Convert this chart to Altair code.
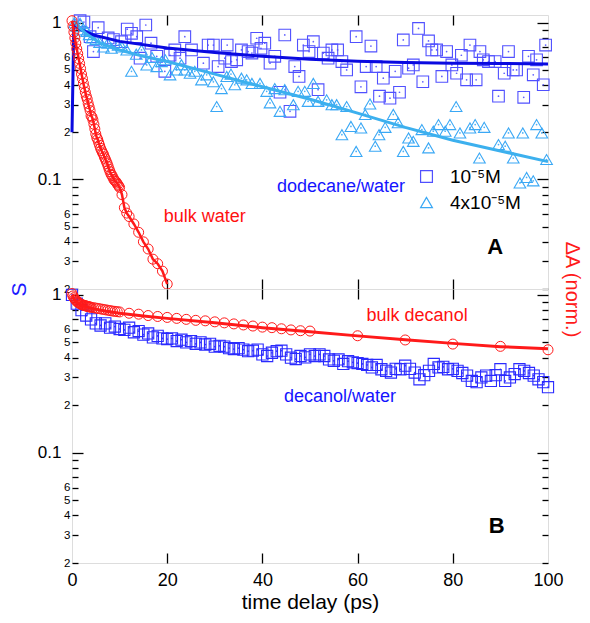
import altair as alt
import pandas as pd

FONT = "Liberation Sans"
W, H = 476, 274

# ---------------- Panel A data ----------------
# dodecane/water, 1e-5 M (squares)
A_SQ_T = [1.7, 2.5, 3.8, 4.5, 5.5, 7.6, 8.7, 10.4, 11.6, 12.5, 13.6, 14.3, 15.5, 16.6, 17.8, 19.5,
          20.6, 21.6, 22.7, 23.7, 25.1, 27.6, 28.6, 29.7, 30.7, 32.1, 32.6, 33.5, 34.6, 35.6, 37.0,
          37.8, 38.8, 39.7, 40.5, 41.6, 42.6, 43.7, 44.7, 45.8, 46.8, 47.7, 48.6, 49.8, 50.7, 51.7,
          52.8, 53.8, 54.6, 55.8, 56.7, 57.7, 59.7, 60.7, 61.8, 62.8, 63.9, 64.6, 65.4, 66.8, 67.9,
          68.8, 69.6, 70.7, 71.7, 72.8, 73.7, 74.9, 75.6, 76.6, 77.7, 78.7, 79.8, 80.8, 81.8, 82.9,
          83.6, 84.9, 85.7, 86.4, 87.5, 88.9, 89.6, 90.8, 91.7, 92.7, 93.4, 94.9, 95.9, 96.9, 97.6,
          99.0, 99.5]
A_SQ_V = [1.03, 1.01, 0.815, 0.655, 0.93, 0.80, 0.78, 0.757, 0.91, 0.856, 0.815, 0.594, 0.967, 0.74, 0.61, 0.49,
          0.62, 0.67, 0.594, 0.815, 0.67, 0.552, 0.72, 0.72, 0.525, 0.594, 0.72, 0.565, 0.58, 0.67, 0.655,
          0.64, 0.796, 0.687, 0.74, 0.552, 0.61, 0.36, 0.835, 0.272, 0.525, 0.454, 0.72, 0.655, 0.757, 0.374,
          0.64, 0.594, 0.67, 0.67, 0.565, 0.50, 0.815, 0.39, 0.525, 0.71, 0.525, 0.34, 0.443, 0.33, 0.49,
          0.36, 0.776, 0.513, 0.538, 0.92, 0.42, 0.765, 0.67, 0.67, 0.454, 0.655, 0.538, 0.476, 0.62, 0.432,
          0.72, 0.432, 0.655, 0.58, 0.565, 0.565, 0.34, 0.476, 0.655, 0.50, 0.50, 0.334, 0.61, 0.465, 0.58,
          0.402, 0.72]
# dodecane/water, 4e-5 M (triangles)
A_TRI_T = [0.5, 1.0, 1.7, 2.2, 3.1, 3.6, 4.2, 5.0, 5.8, 6.6, 7.5, 8.3, 9.7, 10.5, 11.5, 12.5, 13.5,
           14.6, 15.7, 16.8, 17.8, 18.8, 19.6, 20.6, 22.0, 23.0, 23.7, 24.8, 25.8, 27.2, 28.3, 29.7,
           30.4, 31.4, 32.5, 33.4, 34.2, 35.6, 36.7, 37.8, 39.5, 40.9, 41.6, 42.6, 43.7, 44.7, 46.5,
           47.5, 48.9, 49.6, 50.7, 51.7, 53.5, 54.6, 55.6, 56.7, 57.7, 58.6, 59.7, 60.7, 61.6, 62.6,
           63.7, 64.5, 65.8, 67.5, 68.5, 69.6, 70.7, 71.7, 73.5, 74.9, 75.9, 77.0, 78.4, 79.4, 80.7,
           81.5, 83.6, 84.7, 85.6, 86.6, 89.6, 91.0, 91.7, 92.7, 94.1, 94.7, 95.5, 96.9, 97.6, 98.7, 99.7]
A_TRI_V = [1.0, 0.95, 0.99, 0.90, 0.88, 0.84, 0.80, 0.78, 0.75, 0.70, 0.74, 0.687, 0.72, 0.70, 0.67, 0.49, 0.63,
           0.67, 0.538, 0.60, 0.525, 0.565, 0.58, 0.465, 0.50, 0.54, 0.50, 0.476, 0.49, 0.432, 0.465, 0.42,
           0.292, 0.38, 0.454, 0.47, 0.402, 0.443, 0.432, 0.41, 0.41, 0.365, 0.308, 0.38, 0.272, 0.374, 0.30,
           0.365, 0.365, 0.315, 0.41, 0.315, 0.322, 0.30, 0.30, 0.193, 0.292, 0.218, 0.151, 0.213, 0.26, 0.303,
           0.163, 0.193, 0.215, 0.26, 0.23, 0.151, 0.184, 0.175, 0.208, 0.159, 0.203, 0.224, 0.203, 0.224, 0.292,
           0.198, 0.213, 0.224, 0.137, 0.215, 0.167, 0.163, 0.198, 0.137, 0.095, 0.198, 0.103, 0.098, 0.224, 0.198, 0.134]
# fits through the two dodecane/water series
A_FIT1_T = [0, 0.4, 1, 2, 4.5, 10, 20, 30, 40, 50, 60, 70, 80, 90, 100]
A_FIT1_V = [0.2, 1.02, 0.94, 0.9, 0.835, 0.76, 0.69, 0.645, 0.61, 0.585, 0.567, 0.558, 0.552, 0.549, 0.546]
A_FIT4_T = [0.4, 1, 3, 5.9, 10, 15, 20, 30, 40, 50, 60, 70, 80, 90, 100]
A_FIT4_V = [1.02, 0.967, 0.85, 0.74, 0.67, 0.61, 0.565, 0.47, 0.39, 0.325, 0.265, 0.215, 0.178, 0.152, 0.13]
# bulk water (red circles, joined)
A_W_T = [0.0, 0.2, 0.4, 0.6, 0.8, 1.0, 1.2, 1.4, 1.6, 1.8, 2.0, 2.2, 2.4, 2.6, 2.8, 3.0, 3.2, 3.4, 3.6,
         3.8, 4.0, 4.2, 4.4, 4.6, 4.8, 5.0, 5.2, 5.4, 5.6, 5.8, 6.0, 6.2, 6.4, 6.6, 6.8, 7.0, 7.2, 7.4,
         7.6, 7.8, 8.0, 8.2, 8.4, 8.6, 8.8, 9.0, 9.2, 9.4, 9.6, 9.8, 10.0, 10.5, 11.0, 11.5, 12.0, 13.0,
         14.0, 15.0, 16.0, 17.0, 18.0, 19.0, 20.0]
A_W_V = [1.03, 0.95, 0.87, 0.80, 0.74, 0.68, 0.635, 0.59, 0.55, 0.51, 0.47, 0.44, 0.41, 0.385, 0.36, 0.34,
         0.325, 0.305, 0.29, 0.275, 0.255, 0.25, 0.24, 0.225, 0.21, 0.195, 0.185, 0.18, 0.172, 0.165, 0.158,
         0.153, 0.148, 0.145, 0.139, 0.135, 0.13, 0.126, 0.121, 0.116, 0.112, 0.108, 0.106, 0.103, 0.100,
         0.098, 0.097, 0.095, 0.093, 0.091, 0.089, 0.08, 0.066, 0.061, 0.058, 0.052, 0.046, 0.040, 0.036,
         0.031, 0.029, 0.026, 0.0215]

# ---------------- Panel B data ----------------
B_SQ_T = list(range(0, 101))
B_SQ_V = [1.0, 0.88, 0.80, 0.74, 0.70, 0.66, 0.64, 0.66, 0.62, 0.63, 0.608, 0.60, 0.62, 0.58, 0.59, 0.56,
          0.57, 0.538, 0.55, 0.53, 0.525, 0.53, 0.51, 0.52, 0.50, 0.51, 0.49, 0.50, 0.485, 0.49, 0.47,
          0.476, 0.47, 0.46, 0.454, 0.46, 0.45, 0.44, 0.443, 0.45, 0.42, 0.41, 0.43, 0.44, 0.443, 0.42,
          0.40, 0.392, 0.41, 0.402, 0.42, 0.41, 0.42, 0.41, 0.39, 0.382, 0.39, 0.365, 0.38, 0.374, 0.37,
          0.365, 0.36, 0.347, 0.36, 0.338, 0.33, 0.322, 0.34, 0.338, 0.356, 0.34, 0.322, 0.292, 0.31, 0.33,
          0.365, 0.347, 0.35, 0.338, 0.34, 0.33, 0.32, 0.308, 0.285, 0.28, 0.30, 0.308, 0.285, 0.31, 0.338,
          0.285, 0.30, 0.315, 0.338, 0.33, 0.32, 0.308, 0.292, 0.28, 0.26]
B_DEC_T = [0, 0.2, 0.4, 0.6, 0.8, 1.0, 1.2, 1.4, 1.6, 1.8, 2.0, 2.2, 2.4, 2.6, 2.8, 3.0, 3.2, 3.4, 3.6,
           3.8, 4.0, 4.5, 5, 5.5, 6, 6.5, 7, 7.5, 8, 8.5, 9, 9.5, 10, 12, 14, 16, 18, 20, 22, 24, 26, 28,
           30, 32, 34, 36, 38, 40, 42, 44, 46, 48, 50, 60, 70, 80, 90, 100]
B_DEC_V = [1.02, 0.985, 0.96, 0.94, 0.925, 0.91, 0.90, 0.89, 0.885, 0.875, 0.87, 0.865, 0.86, 0.857, 0.853,
           0.85, 0.847, 0.843, 0.84, 0.838, 0.835, 0.83, 0.825, 0.82, 0.815, 0.81, 0.805, 0.80, 0.795, 0.79,
           0.787, 0.783, 0.78, 0.765, 0.755, 0.74, 0.73, 0.72, 0.71, 0.70, 0.69, 0.685, 0.675, 0.665, 0.655,
           0.645, 0.635, 0.625, 0.62, 0.61, 0.60, 0.593, 0.59, 0.551, 0.518, 0.488, 0.472, 0.449]
B_FIT_T = [0, 0.5, 1, 2, 3, 5, 7, 10, 15, 20, 30, 40, 50, 60, 70, 80, 90, 100]
B_FIT_V = [1.0, 0.93, 0.90, 0.86, 0.84, 0.81, 0.79, 0.765, 0.735, 0.71, 0.665, 0.62, 0.585, 0.55, 0.52,
           0.493, 0.47, 0.455]

# ---------------- labels / ticks ----------------
SER = ["10\u207b\u2075M", "4x10\u207b\u2075M"]
Y_TICKS = [0.02, 0.03, 0.04, 0.05, 0.06, 0.07, 0.08, 0.09, 0.1, 0.2, 0.3, 0.4, 0.5, 0.6, 0.7, 0.8, 0.9, 1.0]
Y_MAJOR = [0.1, 1.0]
Y_MINOR_LAB = [0.02, 0.03, 0.04, 0.05, 0.06, 0.2, 0.3, 0.4, 0.5, 0.6]
X_TICKS = [20, 40, 60, 80]
X_LABELS = [0, 20, 40, 60, 80, 100]

A_TXT = [("bulk water", 27.9, 0.0573, "#ff1010"), ("dodecane/water", 56.5, 0.089, "#1414ff")]
B_TXT = [("bulk decanol", 72.5, 0.738, "#ff1010"), ("decanol/water", 56.3, 0.225, "#1414ff")]
A_PANEL = ("A", 88.9, 0.0368)
B_PANEL = ("B", 89.2, 0.0341)

C_SQ_A = "#5050ff"
C_TRI = "#3aa8f5"
C_DARK = "#0a0ae0"
C_LIGHT = "#3cb0ee"
C_RED = "#ff1a1a"
C_SQ_B = "#2a2aff"

xs = alt.Scale(domain=[0, 100], nice=False, zero=False)
ysA = alt.Scale(type="log", domain=[0.02, 1.12], nice=False)
ysB = alt.Scale(type="log", domain=[0.02, 1.09], nice=False)

MAJ = "datum.value > 0.95 || (datum.value > 0.095 && datum.value < 0.105)"


def ax_major(**extra):
    return alt.Axis(orient="left", values=Y_MAJOR, ticks=False, domain=False, grid=False,
                    labelFont=FONT, labelFontSize=17, labelPadding=11, labelColor="black",
                    labelOverlap=False, labelExpr="datum.value > 0.5 ? '1' : '0.1'", **extra)


def ax_minor():
    return alt.Axis(orient="left", values=Y_MINOR_LAB, ticks=False, domain=False, grid=False,
                    labelFont=FONT, labelFontSize=11.5, labelPadding=2, labelColor="black",
                    labelOverlap=False,
                    labelExpr="format(datum.value * (datum.value < 0.095 ? 100 : 10), '.0f')",
                    title=None)


def ax_y_ticks(orient, **extra):
    return alt.Axis(orient=orient, offset=-W, values=Y_TICKS, labels=False, domain=False, grid=False,
                    tickColor="black", tickWidth=1.3,
                    tickSize={"condition": {"test": MAJ, "value": 11}, "value": 6}, **extra)


def ax_x_ticks(orient):
    return alt.Axis(orient=orient, offset=-H, values=X_TICKS, labels=False, domain=False, grid=False,
                    tickColor="black", tickWidth=1.3, tickSize=10, title=None)


def text_layer(rows, ys, size=18, weight="normal"):
    layers = []
    for lab, t, v, c in rows:
        d = pd.DataFrame({"t": [t], "v": [v], "lab": [lab]})
        layers.append(alt.Chart(d).mark_text(font=FONT, fontSize=size, fontWeight=weight, color=c,
                                             align="center", baseline="middle").encode(
            x=alt.X("t:Q", scale=xs, axis=None), y=alt.Y("v:Q", scale=ys, axis=None), text="lab:N"))
    return layers


def dots(df, ys, color):
    # the small centre dot drawn inside each open marker
    return alt.Chart(df).mark_circle(color=color, size=3, opacity=0.9).encode(
        x=alt.X("t:Q", scale=xs, axis=None), y=alt.Y("v:Q", scale=ys, axis=None))


# ---------------- Panel A ----------------
dfSq = pd.DataFrame({"t": A_SQ_T, "v": A_SQ_V, "series": SER[0]})
dfTri = pd.DataFrame({"t": A_TRI_T, "v": A_TRI_V, "series": SER[1]})
dfA = pd.concat([dfSq, dfTri])
LEG = alt.Legend(orient="none", legendX=345, legendY=152, title=None, labelFont=FONT, labelFontSize=19,
                 symbolSize=140, symbolStrokeWidth=1.2, labelOffset=14, rowPadding=6, labelColor="black")

a_pts = alt.Chart(dfA).mark_point(filled=False, strokeWidth=1.1, opacity=1, size=135).encode(
    x=alt.X("t:Q", scale=xs, axis=ax_x_ticks("top")),
    y=alt.Y("v:Q", scale=ysA, axis=ax_major(title="S", titleColor="#1a1aff", titleFont=FONT,
                                           titleFontSize=21, titleFontWeight="normal", titleAngle=270,
                                           titleX=-53, titleY=H, titleAlign="center",
                                           titleBaseline="middle")),
    color=alt.Color("series:N", scale=alt.Scale(domain=SER, range=[C_SQ_A, C_TRI]), legend=LEG),
    shape=alt.Shape("series:N", scale=alt.Scale(domain=SER, range=["square", "triangle-up"]), legend=LEG),
)
a_fit1 = alt.Chart(pd.DataFrame({"t": A_FIT1_T, "v": A_FIT1_V})).mark_line(color=C_DARK, strokeWidth=3).encode(
    x=alt.X("t:Q", scale=xs, axis=ax_x_ticks("bottom")),
    y=alt.Y("v:Q", scale=ysA, axis=ax_minor()))
a_fit4 = alt.Chart(pd.DataFrame({"t": A_FIT4_T, "v": A_FIT4_V})).mark_line(color=C_LIGHT, strokeWidth=3).encode(
    x=alt.X("t:Q", scale=xs, axis=None),
    y=alt.Y("v:Q", scale=ysA, axis=ax_y_ticks("right", title=None)))
dfW = pd.DataFrame({"t": A_W_T, "v": A_W_V})
a_wpts = alt.Chart(dfW).mark_point(shape="circle", filled=False, color=C_RED, size=100, strokeWidth=1,
                                   opacity=1).encode(
    x=alt.X("t:Q", scale=xs, axis=None),
    y=alt.Y("v:Q", scale=ysA, axis=ax_y_ticks("left", title="\u0394A (norm.)", titleColor=C_RED,
                                              titleFont=FONT, titleFontSize=20, titleFontWeight="normal",
                                              titleAngle=90, titleX=23, titleY=H, titleAlign="center",
                                              titleBaseline="middle")))
a_wline = alt.Chart(dfW).mark_line(color=C_RED, strokeWidth=2.5).encode(
    x=alt.X("t:Q", scale=xs, axis=None), y=alt.Y("v:Q", scale=ysA, axis=None))

panelA = alt.layer(
    a_pts, dots(dfSq, ysA, C_SQ_A), dots(dfTri, ysA, C_TRI), a_fit1, a_fit4, a_wpts, a_wline,
    *text_layer(A_TXT, ysA),
    *text_layer([(A_PANEL[0], A_PANEL[1], A_PANEL[2], "black")], ysA, size=22, weight="bold"),
).resolve_axis(x="independent", y="independent").properties(width=W, height=H)

# ---------------- Panel B ----------------
dfB = pd.DataFrame({"t": B_SQ_T, "v": B_SQ_V})
b_sq = alt.Chart(dfB).mark_point(shape="square", filled=False, color=C_SQ_B, size=125, strokeWidth=1.1,
                                 opacity=1).encode(
    x=alt.X("t:Q", scale=xs, axis=alt.Axis(orient="bottom", values=X_LABELS, ticks=False, domain=False,
                                            grid=False, labelFont=FONT, labelFontSize=18, labelPadding=8,
                                            labelFlush=False, labelColor="black", title="time delay (ps)",
                                            titleFont=FONT, titleFontSize=21, titleFontWeight="normal",
                                            titleColor="black", titlePadding=2)),
    y=alt.Y("v:Q", scale=ysB, axis=ax_major(title=None)))
dfD = pd.DataFrame({"t": B_DEC_T, "v": B_DEC_V})
b_dec = alt.Chart(dfD).mark_point(shape="circle", filled=False, color=C_RED, size=100, strokeWidth=1,
                                  opacity=1).encode(
    x=alt.X("t:Q", scale=xs, axis=ax_x_ticks("bottom")),
    y=alt.Y("v:Q", scale=ysB, axis=ax_minor()))
b_fit = alt.Chart(pd.DataFrame({"t": B_FIT_T, "v": B_FIT_V})).mark_line(color=C_RED, strokeWidth=3).encode(
    x=alt.X("t:Q", scale=xs, axis=ax_x_ticks("top")),
    y=alt.Y("v:Q", scale=ysB, axis=ax_y_ticks("right", title=None)))
b_lab = alt.Chart(pd.DataFrame({"t": [B_PANEL[1]], "v": [B_PANEL[2]], "lab": [B_PANEL[0]]})).mark_text(
    font=FONT, fontSize=22, fontWeight="bold", color="black", align="center", baseline="middle").encode(
    x=alt.X("t:Q", scale=xs, axis=None),
    y=alt.Y("v:Q", scale=ysB, axis=ax_y_ticks("left", title=None)), text="lab:N")

panelB = alt.layer(
    b_sq, dots(dfB, ysB, C_SQ_B), b_dec, b_fit, b_lab, *text_layer(B_TXT, ysB),
).resolve_axis(x="independent", y="independent").properties(width=W, height=H)

# autosize "none": the page size is set by the padding (the view's own height signal is 0 here)
chart = alt.vconcat(panelA, panelB, spacing=0, bounds="flush").configure_view(
    stroke="black", strokeWidth=1.5).configure(font=FONT).properties(
    autosize=alt.AutoSizeParams(type="none"),
    padding={"left": 64, "top": 7, "right": 34, "bottom": 2 * H + 55})

chart.save("out.html", embed_options={"renderer": "svg", "actions": False})
